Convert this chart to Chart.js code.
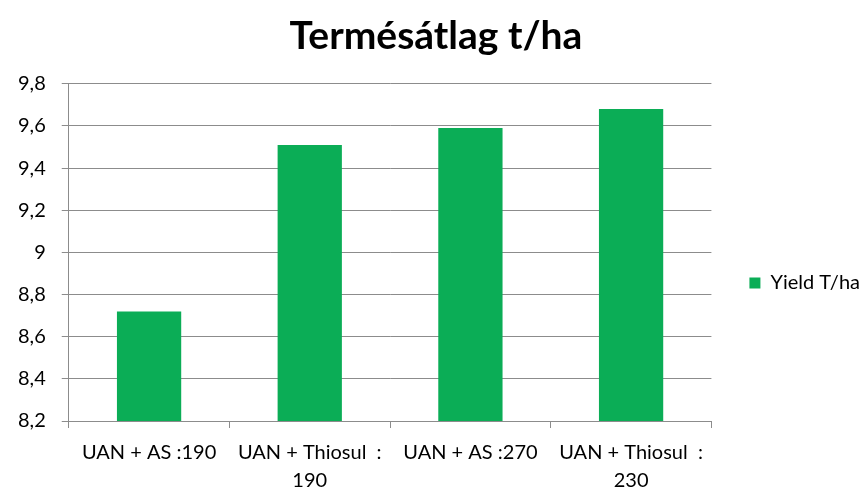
<!DOCTYPE html>
<html>
<head>
<meta charset="utf-8">
<script src="https://cdn.jsdelivr.net/npm/chart.js@4"></script>
<style>
  html, body { margin: 0; padding: 0; background: #fff; }
  #wrap { width: 863px; height: 488px; }
</style>
</head>
<body>
<div id="wrap"><canvas id="yieldChart"></canvas></div>
<script>
// Chart data
const categories = [
    'UAN + AS :190',
    ['UAN + Thiosul  :', '190'],
    'UAN + AS :270',
    ['UAN + Thiosul  :', '230']
];
const yieldValues = [8.72, 9.51, 9.59, 9.68];
const seriesName = 'Yield T/ha';
const chartTitle = 'Termésátlag t/ha';
const yMin = 8.2, yMax = 9.8, yStep = 0.2;

const FONT = 'Lato, "Open Sans", sans-serif';
const gridColor = '#8c8c8c';

new Chart(document.getElementById('yieldChart'), {
    type: 'bar',
    data: {
        labels: categories,
        datasets: [{
            label: seriesName,
            data: yieldValues,
            backgroundColor: '#0bad56',
            barPercentage: 0.4,
            categoryPercentage: 1
        }]
    },
    options: {
        responsive: true,
        maintainAspectRatio: false,
        animation: false,
        // negative paddings: legend gutter and 2nd label line sit tight to the edges
        layout: { padding: { top: 0, right: -7, left: 2, bottom: -18 } },
        plugins: {
            title: {
                display: true,
                text: chartTitle,
                color: '#000',
                font: { family: FONT, size: 39, weight: 'bold' },
                padding: { top: 13, bottom: 24 }
            },
            legend: {
                position: 'right',
                // empty title only pushes the legend item a bit below centre
                title: { display: true, text: '', font: { size: 10 }, padding: { top: 0, bottom: 48 } },
                labels: {
                    color: '#000',
                    font: { family: FONT, size: 20 },
                    boxWidth: 11,
                    boxHeight: 11,
                    padding: 38
                }
            },
            tooltip: { enabled: false }
        },
        scales: {
            x: {
                grid: {
                    drawOnChartArea: false,
                    drawTicks: true,
                    tickLength: 7,
                    color: gridColor,
                    offset: true
                },
                border: { color: gridColor },
                ticks: {
                    color: '#000',
                    font: { family: FONT, size: 20, lineHeight: 1.4 },
                    maxRotation: 0,
                    autoSkip: false,
                    padding: 11
                }
            },
            y: {
                min: yMin,
                max: yMax,
                grid: { color: gridColor, tickLength: 7 },
                border: { color: gridColor },
                ticks: {
                    stepSize: yStep,
                    color: '#000',
                    font: { family: FONT, size: 20 },
                    padding: 16,
                    callback: v => String(+v.toFixed(1)).replace('.', ',')
                }
            }
        }
    }
});
</script>
</body>
</html>
